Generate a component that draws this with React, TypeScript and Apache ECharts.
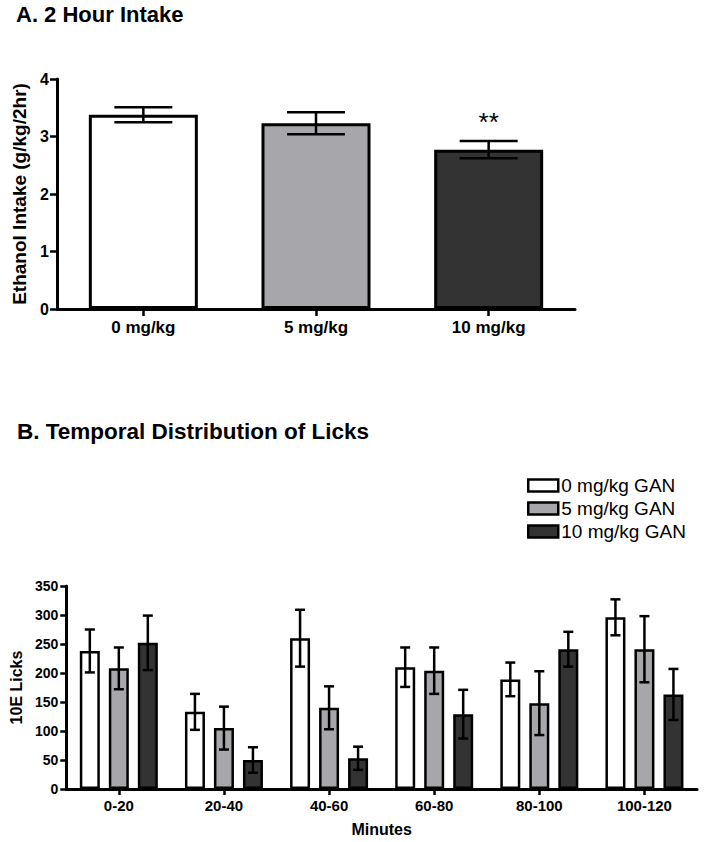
import React, { useEffect, useRef } from "react";
import * as echarts from "echarts";

const doseCategories = ["0 mg/kg", "5 mg/kg", "10 mg/kg"];
const intakeMeans = [3.38, 3.23, 2.77];
const intakeErrors = [0.13, 0.19, 0.15];
const intakeMarks = ["", "", "**"];

const minuteCategories = ["0-20", "20-40", "40-60", "60-80", "80-100", "100-120"];
const groupNames = ["0 mg/kg GAN", "5 mg/kg GAN", "10 mg/kg GAN"];
const licks0 = [238, 133, 260, 210, 189, 296];
const licks0Err = [37, 31, 49, 34, 29, 31];
const licks5 = [208, 105, 140, 204, 148, 241];
const licks5Err = [36, 37, 37, 40, 55, 57];
const licks10 = [252, 50, 53, 129, 241, 163];
const licks10Err = [47, 22, 20, 42, 30, 44];

const FONT = "'Liberation Sans', Arial, Helvetica, sans-serif";
const COLORS = ["#ffffff", "#a7a6ab", "#333333"];
const BAR_B = 20;
const PITCH_B = 29;
const BAR_A = 109;

function errorBarRender(offset: number, capHalf: number, marks?: string[]) {
  return (params: any, api: any) => {
    const idx = api.value(0);
    const v = api.value(1);
    const e = api.value(2);
    const top = api.coord([idx, v + e]);
    const bot = api.coord([idx, v - e]);
    const x = top[0] + offset;
    const style = { stroke: "#000", lineWidth: 2.5 };
    const children: any[] = [
      { type: "line", shape: { x1: x, y1: top[1], x2: x, y2: bot[1] }, style },
      { type: "line", shape: { x1: x - capHalf, y1: top[1], x2: x + capHalf, y2: top[1] }, style },
      { type: "line", shape: { x1: x - capHalf, y1: bot[1], x2: x + capHalf, y2: bot[1] }, style },
    ];
    if (marks && marks[params.dataIndex]) {
      children.push({
        type: "text",
        style: {
          text: marks[params.dataIndex],
          x: x,
          y: top[1] - 19,
          align: "center",
          verticalAlign: "middle",
          fontSize: 26,
          fontFamily: FONT,
          fill: "#000",
        },
      });
    }
    return { type: "group", children };
  };
}

export default function App() {
  const ref = useRef<HTMLDivElement>(null);
  useEffect(() => {
    if (!ref.current) return;
    const chart = echarts.init(ref.current, undefined, { renderer: "svg" });
    const axisLine = { show: true, lineStyle: { color: "#000", width: 3 } };
    const axisTick = { show: true, length: 6, lineStyle: { color: "#000", width: 2.5 } };
    const groupSeries = [licks0, licks5, licks10];
    const groupErrs = [licks0Err, licks5Err, licks10Err];

    const option: any = {
      animation: false,
      backgroundColor: "#fff",
      title: [
        {
          text: "A. 2 Hour Intake",
          left: 16,
          top: 3,
          padding: 0,
          textStyle: { fontSize: 22, fontWeight: "bold", fontFamily: FONT, color: "#000" },
        },
        {
          text: "B. Temporal Distribution of Licks",
          left: 17,
          top: 420,
          padding: 0,
          textStyle: { fontSize: 22.5, fontWeight: "bold", fontFamily: FONT, color: "#000" },
        },
      ],
      legend: {
        data: groupNames,
        orient: "vertical",
        left: 527,
        top: 476,
        padding: 0,
        itemWidth: 30,
        itemHeight: 12,
        itemGap: 4,
        icon: "rect",
        itemStyle: { borderColor: "#000", borderWidth: 2.5 },
        textStyle: { fontSize: 19, fontFamily: FONT, color: "#000", padding: [0, 0, 0, -2] },
      },
      grid: [
        { left: 57, top: 79, width: 518, height: 230 },
        { left: 58, top: 586, width: 639, height: 203 },
      ],
      xAxis: [
        {
          gridIndex: 0,
          type: "category",
          data: doseCategories,
          axisLine,
          axisTick: { ...axisTick, alignWithLabel: true, length: 7 },
          axisLabel: { fontSize: 17, fontWeight: "bold", fontFamily: FONT, color: "#000", margin: 10 },
        },
        {
          gridIndex: 1,
          type: "category",
          data: minuteCategories,
          name: "Minutes",
          nameLocation: "middle",
          nameGap: 32,
          nameTextStyle: { fontSize: 16, fontWeight: "bold", fontFamily: FONT, color: "#000" },
          axisLine,
          axisTick: { ...axisTick, alignWithLabel: true },
          axisLabel: { fontSize: 15, fontWeight: "bold", fontFamily: FONT, color: "#000", margin: 9 },
        },
      ],
      yAxis: [
        {
          gridIndex: 0,
          type: "value",
          min: 0,
          max: 4,
          interval: 1,
          name: "Ethanol Intake (g/kg/2hr)",
          nameLocation: "middle",
          nameGap: 28,
          nameTextStyle: { fontSize: 19, fontWeight: "bold", fontFamily: FONT, color: "#000" },
          splitLine: { show: false },
          axisLine,
          axisTick: { ...axisTick, length: 7 },
          axisLabel: { fontSize: 16, fontWeight: "bold", fontFamily: FONT, color: "#000", margin: 8 },
        },
        {
          gridIndex: 1,
          type: "value",
          min: 0,
          max: 350,
          interval: 50,
          name: "10E Licks",
          nameLocation: "middle",
          nameGap: 33,
          nameTextStyle: { fontSize: 16, fontWeight: "bold", fontFamily: FONT, color: "#000" },
          splitLine: { show: false },
          axisLine,
          axisTick,
          axisLabel: { fontSize: 14, fontWeight: "bold", fontFamily: FONT, color: "#000", margin: 8 },
        },
      ],
      series: [
        {
          name: "2 Hour Intake",
          type: "bar",
          xAxisIndex: 0,
          yAxisIndex: 0,
          barWidth: BAR_A,
          data: intakeMeans.map((v, i) => ({
            value: v,
            itemStyle: { color: COLORS[i], borderColor: "#000", borderWidth: 3 },
          })),
        },
        {
          name: "2 Hour Intake error",
          type: "custom",
          xAxisIndex: 0,
          yAxisIndex: 0,
          z: 5,
          renderItem: errorBarRender(0, 29, intakeMarks),
          data: intakeMeans.map((v, i) => [i, v, intakeErrors[i]]),
        },
        ...groupSeries.map((vals, g) => ({
          name: groupNames[g],
          type: "bar",
          xAxisIndex: 1,
          yAxisIndex: 1,
          barWidth: BAR_B,
          barGap: ((PITCH_B - BAR_B) / BAR_B) * 100 + "%",
          itemStyle: { color: COLORS[g], borderColor: "#000", borderWidth: 2.5 },
          data: vals,
        })),
        ...groupSeries.map((vals, g) => ({
          name: groupNames[g] + " error",
          type: "custom",
          xAxisIndex: 1,
          yAxisIndex: 1,
          z: 5,
          renderItem: errorBarRender((g - 1) * PITCH_B, 5, undefined),
          data: vals.map((v, i) => [i, v, groupErrs[g][i]]),
        })),
      ],
    };
    chart.setOption(option);
    return () => chart.dispose();
  }, []);
  return (
    <div
      ref={ref}
      style={{ position: "absolute", left: 0, top: 0, width: 704, height: 842, background: "#fff" }}
    />
  );
}
